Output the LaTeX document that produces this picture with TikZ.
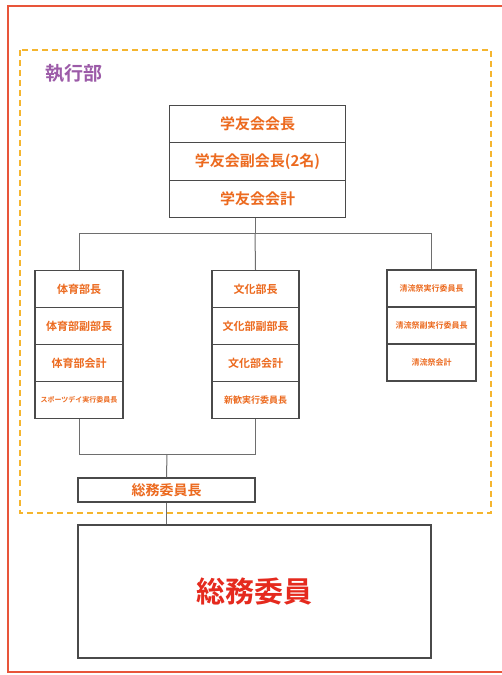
\documentclass[tikz,border=0pt]{standalone}
\usepackage{fontspec}
\setmainfont{Noto Sans CJK JP}[BoldFont={Noto Sans CJK JP Bold}]
\definecolor{txtor}{HTML}{EC6A1F}
\definecolor{bigred}{HTML}{E52A1E}
\definecolor{purp}{HTML}{9C5BA8}
\definecolor{dashy}{HTML}{F5B52E}
\definecolor{frame}{HTML}{E8553A}
\definecolor{boxline}{HTML}{4A4A4A}
\tikzset{
  cell/.style={draw=boxline, line width=1.4pt, fill=white, inner sep=0pt, text=txtor, font=\bfseries},
  link/.style={draw=boxline!80, line width=1pt},
}
\begin{document}
\begin{tikzpicture}[x=1pt,y=-1pt]
\useasboundingbox (0,0) rectangle (502,675);
\fill[white] (0,0) rectangle (502,675);
% outer red frame (open on the right)
\draw[frame, line width=2pt] (520,6) -- (8,6) -- (8,672) -- (520,672);
% dashed executive area
\draw[dashy, line width=2pt, dash pattern=on 6pt off 4pt] (20,50) rectangle (491,513);
\node[text=purp, font=\bfseries\fontsize{19}{19}\selectfont, anchor=west] (lab) at (42,73) {執行部};

% top box
\node[cell, minimum width=176, minimum height=37.5, font=\bfseries\fontsize{15}{15}\selectfont] (t1) at (257.5,124) {学友会会長};
\node[cell, minimum width=176, minimum height=37.5, font=\bfseries\fontsize{15}{15}\selectfont] (t2) at (257.5,161.5) {学友会副会長(2名)};
\node[cell, minimum width=176, minimum height=37.5, font=\bfseries\fontsize{15}{15}\selectfont] (t3) at (257.5,199) {学友会会計};

% left column
\node[cell, minimum width=88, minimum height=37, font=\bfseries\fontsize{11}{11}\selectfont] (l1) at (79,289) {体育部長};
\node[cell, minimum width=88, minimum height=37, font=\bfseries\fontsize{11}{11}\selectfont] (l2) at (79,326) {体育部副部長};
\node[cell, minimum width=88, minimum height=37, font=\bfseries\fontsize{11}{11}\selectfont] (l3) at (79,363) {体育部会計};
\node[cell, minimum width=88, minimum height=37, font=\bfseries\fontsize{7}{7}\selectfont] (l4) at (79,400) {スポーツデイ実行委員長};

% middle column
\node[cell, minimum width=87, minimum height=37, font=\bfseries\fontsize{11}{11}\selectfont] (m1) at (255.5,289) {文化部長};
\node[cell, minimum width=87, minimum height=37, font=\bfseries\fontsize{11}{11}\selectfont] (m2) at (255.5,326) {文化部副部長};
\node[cell, minimum width=87, minimum height=37, font=\bfseries\fontsize{11}{11}\selectfont] (m3) at (255.5,363) {文化部会計};
\node[cell, minimum width=87, minimum height=37, font=\bfseries\fontsize{9}{9}\selectfont] (m4) at (255.5,400) {新歓実行委員長};

% right column
\node[cell, minimum width=89, minimum height=37, font=\bfseries\fontsize{8}{8}\selectfont] (r1) at (431.5,288.5) {清流祭実行委員長};
\node[cell, minimum width=89, minimum height=37, font=\bfseries\fontsize{8}{8}\selectfont] (r2) at (431.5,325.5) {清流祭副実行委員長};
\node[cell, minimum width=89, minimum height=37, font=\bfseries\fontsize{8}{8}\selectfont] (r3) at (431.5,362.5) {清流祭会計};

% general affairs chief
\node[cell, minimum width=177, minimum height=24, font=\bfseries\fontsize{14}{14}\selectfont] (s1) at (166.5,490) {総務委員長};
% general affairs members
\node[cell, minimum width=353, minimum height=133, text=bigred, font=\bfseries\fontsize{29}{29}\selectfont] (big) at (254.5,591.5) {総務委員};

% connectors
\coordinate (j1) at (255,233);
\coordinate (j2) at (167,454);
\draw[link] (t3.south -| j1) -- (j1);
\draw[link] (l1.north) -- (l1.north |- j1) -- (r1.north |- j1) -- (r1.north);
\draw[link] (j1) -- (m1.north);
\draw[link] (l4.south) -- (l4.south |- j2) -- (m4.south |- j2) -- (m4.south);
\draw[link] (j2) -- (s1.north);
\draw[link] (s1.south) -- (s1.south |- big.north);
\end{tikzpicture}
\end{document}
